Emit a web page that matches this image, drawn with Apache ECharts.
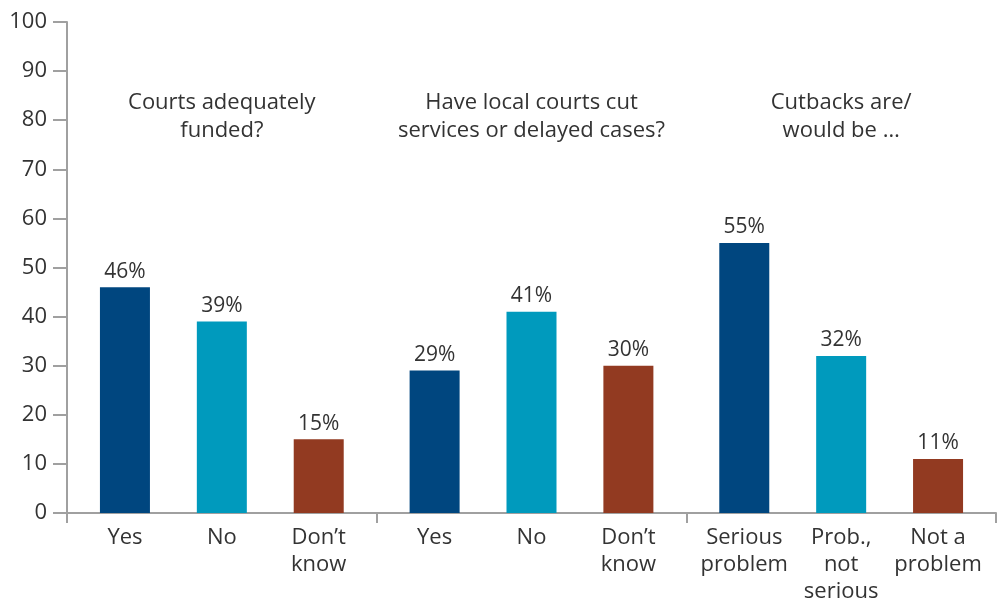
<!DOCTYPE html>
<html>
<head>
<meta charset="utf-8">
<script src="https://cdn.jsdelivr.net/npm/echarts@6/dist/echarts.min.js"></script>
<style>html,body{margin:0;padding:0;background:#fff}#c{width:1002px;height:600px}</style>
</head>
<body>
<div id="c"></div>
<script>
const groupTitles = ["Courts adequately\nfunded?", "Have local courts cut\nservices or delayed cases?", "Cutbacks are/\nwould be \u2026"];
const categories = [
  ["Yes", "No", "Don\u2019t\nknow"],
  ["Yes", "No", "Don\u2019t\nknow"],
  ["Serious\nproblem", "Prob.,\nnot\nserious", "Not a\nproblem"]
];
const values = [
  [46, 39, 15],
  [29, 41, 30],
  [55, 32, 11]
];
const yTicks = [0, 10, 20, 30, 40, 50, 60, 70, 80, 90, 100];
const barColors = ["#00467f", "#009abd", "#923a21"];

(function () {
const FONT = "'Open Sans', sans-serif";
const TXT = "#333333";
const AX = "#a0a0a0";
const frameLeft = 67, frameRight = 6, gTop = 22, gBottom = 87;
const frameW = 1002 - frameLeft - frameRight;
const groupW = frameW / 3;
const inset = 9.5;

const grids = [{left: frameLeft, right: frameRight, top: gTop, bottom: gBottom, outerBoundsMode: 'none', containLabel: false}];
const xAxes = [{
  gridIndex: 0, type: 'category', data: groupTitles.map(() => ''),
  axisLine: {lineStyle: {color: AX, width: 2}},
  axisTick: {show: true, length: 10, lineStyle: {color: AX, width: 2}},
  axisLabel: {show: false}
}];
const yAxes = [{
  gridIndex: 0, type: 'value', min: 0, max: 100, interval: 10,
  axisLine: {show: true, lineStyle: {color: AX, width: 2}},
  axisTick: {show: true, length: 14, lineStyle: {color: AX, width: 2}},
  splitLine: {show: false},
  axisLabel: {color: TXT, fontSize: 22, fontFamily: FONT, margin: 20,
    formatter: v => yTicks.includes(v) ? String(v) : ''}
}];
const series = [];
const titles = [];
for (let g = 0; g < 3; g++) {
  const gl = frameLeft + g * groupW + inset;
  grids.push({left: gl, width: groupW - 2 * inset, top: gTop, bottom: gBottom, outerBoundsMode: 'none', containLabel: false});
  xAxes.push({
    gridIndex: g + 1, type: 'category', data: categories[g],
    axisLine: {show: false}, axisTick: {show: false},
    axisLabel: {color: TXT, fontSize: 22, fontFamily: FONT, margin: 11, lineHeight: 27, interval: 0}
  });
  yAxes.push({gridIndex: g + 1, type: 'value', min: 0, max: 100, show: false});
  series.push({
    type: 'bar', xAxisIndex: g + 1, yAxisIndex: g + 1, barWidth: 50,
    data: values[g].map((v, i) => ({value: v, itemStyle: {color: barColors[i]}})),
    label: {show: true, position: 'top', distance: 5, color: TXT, fontSize: 21, fontFamily: FONT,
      formatter: p => p.value + '%'},
    silent: true, animation: false
  });
  titles.push({
    text: groupTitles[g], left: frameLeft + (g + 0.5) * groupW, top: 89, textAlign: 'center', padding: 0,
    textStyle: {color: TXT, fontSize: 22, fontWeight: 'normal', fontFamily: FONT, lineHeight: 28}
  });
}

const chart = echarts.init(document.getElementById('c'));
chart.setOption({
  animation: false,
  title: titles,
  grid: grids,
  xAxis: xAxes,
  yAxis: yAxes,
  series: series
});
})();
</script>
</body>
</html>
